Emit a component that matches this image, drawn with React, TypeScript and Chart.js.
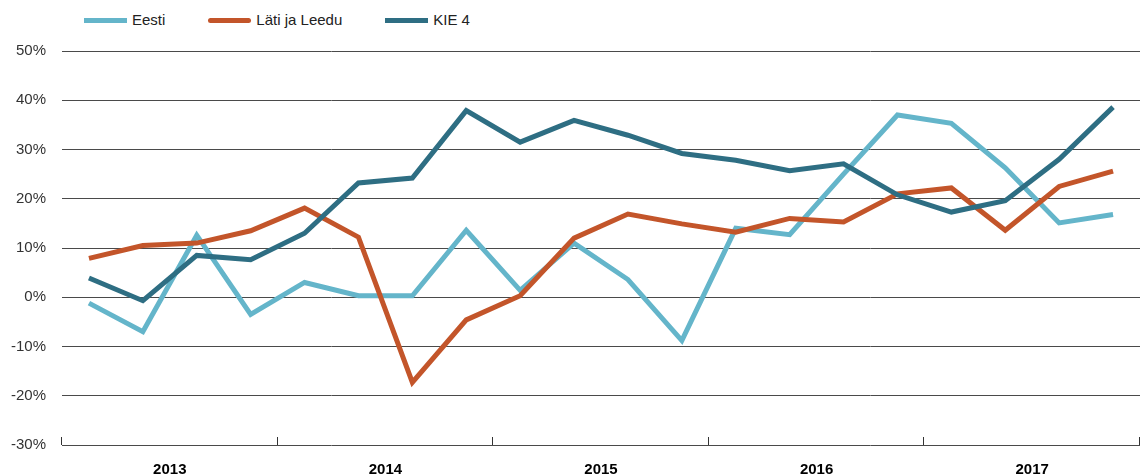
import React, { useEffect, useRef } from 'react';
import { Chart, registerables } from 'chart.js';

Chart.register(...registerables);

const quarters = [
  '2013 I', '2013 II', '2013 III', '2013 IV',
  '2014 I', '2014 II', '2014 III', '2014 IV',
  '2015 I', '2015 II', '2015 III', '2015 IV',
  '2016 I', '2016 II', '2016 III', '2016 IV',
  '2017 I', '2017 II', '2017 III', '2017 IV',
];
const years = ['2013', '2014', '2015', '2016', '2017'];

const eesti = [-1.2, -7.0, 12.6, -3.5, 3.0, 0.3, 0.3, 13.6, 1.4, 11.0, 3.6, -8.8, 14.0, 12.7, 25.0, 37.0, 35.3, 26.3, 15.1, 16.8];
const latiLeedu = [7.9, 10.5, 11.0, 13.5, 18.1, 12.2, -17.3, -4.6, 0.3, 12.0, 16.9, 14.9, 13.2, 16.0, 15.3, 21.0, 22.2, 13.6, 22.5, 25.6];
const kie4 = [3.9, -0.7, 8.5, 7.6, 13.0, 23.2, 24.2, 37.9, 31.5, 35.9, 32.9, 29.2, 27.8, 25.7, 27.1, 20.8, 17.3, 19.6, 28.0, 38.6];

const seriesNames = ['Eesti', 'Läti ja Leedu', 'KIE 4'];
const seriesColors = ['#64B5CA', '#C3552A', '#2E6E83'];
const seriesData = [eesti, latiLeedu, kie4];
const seriesOrder = [3, 2, 1];

const FONT = '"Liberation Sans", Arial, Helvetica, sans-serif';

const yearTicksPlugin = {
  id: 'yearTicks',
  afterDraw(chart: any) {
    const s = chart.scales.x2;
    if (!s) return;
    const ctx = chart.ctx;
    const bottom = chart.chartArea.bottom;
    ctx.save();
    ctx.strokeStyle = '#333';
    ctx.lineWidth = 1;
    for (let i = 0; i <= years.length; i++) {
      const x = Math.round(s.getPixelForValue(i - 0.5)) - 0.5;
      ctx.beginPath();
      ctx.moveTo(x, bottom);
      ctx.lineTo(x, bottom - 8);
      ctx.stroke();
    }
    ctx.restore();
  },
};

export default function App() {
  const canvasRef = useRef<HTMLCanvasElement | null>(null);

  useEffect(() => {
    document.body.style.margin = '0';
    const canvas = canvasRef.current;
    if (!canvas) return;
    Chart.defaults.font.family = FONT;
    const chart = new Chart(canvas, {
      type: 'line',
      data: {
        labels: quarters,
        datasets: seriesNames.map((name, i) => ({
          label: name,
          data: seriesData[i],
          borderColor: seriesColors[i],
          backgroundColor: seriesColors[i],
          borderWidth: 5,
          pointRadius: 0,
          pointHoverRadius: 0,
          tension: 0,
          fill: false,
          borderJoinStyle: 'miter' as const,
          order: seriesOrder[i],
          xAxisID: 'x',
          yAxisID: 'y',
        })),
      },
      options: {
        animation: false,
        responsive: true,
        maintainAspectRatio: false,
        layout: { padding: { top: 51, right: 4, left: 0, bottom: 0 } },
        plugins: {
          legend: { display: false },
          tooltip: { enabled: false },
          title: { display: false },
        },
        scales: {
          x: {
            type: 'category',
            display: false,
            offset: true,
          },
          x2: {
            type: 'category',
            labels: years,
            position: 'bottom',
            offset: true,
            bounds: 'ticks',
            grid: { display: false },
            border: { display: false },
            ticks: {
              color: '#000',
              font: { size: 15, weight: 'bold', family: FONT },
              padding: 8,
              maxRotation: 0,
              autoSkip: false,
            },
            afterFit(s: any) {
              s.height = 30;
            },
          },
          y: {
            type: 'linear',
            min: -30,
            max: 50,
            ticks: {
              stepSize: 10,
              color: '#333',
              font: { size: 15, family: FONT },
              padding: 16,
              callback: (v: any) => `${v}%`,
            },
            grid: {
              color: '#4a4a4a',
              lineWidth: 1,
              drawTicks: false,
            },
            border: { display: false },
            afterFit(s: any) {
              s.width = 62;
            },
          },
        },
      },
      plugins: [yearTicksPlugin],
    });
    return () => chart.destroy();
  }, []);

  return (
    <div style={{ position: 'relative', width: 1144, height: 475, background: '#fff' }}>
      <div
        style={{
          position: 'absolute',
          left: 84,
          top: 10,
          display: 'flex',
          alignItems: 'center',
          gap: 43,
          fontFamily: FONT,
          fontSize: 15,
          color: '#222',
          lineHeight: '20px',
        }}
      >
        {seriesNames.map((name, i) => (
          <div key={name} style={{ display: 'flex', alignItems: 'center' }}>
            <span
              style={{
                display: 'inline-block',
                width: 43,
                height: 5,
                background: seriesColors[i],
                marginRight: 5,
                borderRadius: i === 1 ? 3 : 0,
              }}
            />
            <span>{name}</span>
          </div>
        ))}
      </div>
      <canvas ref={canvasRef} style={{ position: 'absolute', left: 0, top: 0, width: 1144, height: 475 }} />
    </div>
  );
}
